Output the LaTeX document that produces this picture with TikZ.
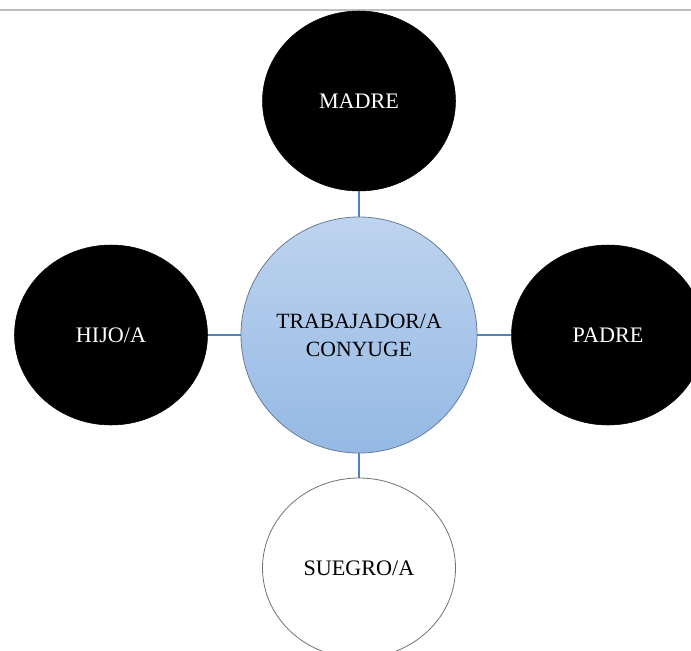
\documentclass[tikz,border=0pt]{standalone}
\usepackage{fontspec}
\setmainfont{Liberation Serif}
\usetikzlibrary{shapes.geometric}

\definecolor{linkblue}{RGB}{79,129,189}
\definecolor{centertop}{RGB}{190,211,238}
\definecolor{centerbot}{RGB}{148,185,228}
\definecolor{centerrim}{RGB}{105,125,155}

\tikzset{
	family/.style={ellipse, minimum width=144.75pt, minimum height=135pt, inner sep=0pt, font=\fontsize{16.6}{20}\selectfont},
	darkfam/.style={family, draw=black, fill=black, text=white},
	lightfam/.style={family, draw=black!55, line width=0.6pt, fill=white},
	worker/.style={circle, minimum size=177pt, inner sep=0pt, draw=centerrim, line width=0.6pt, top color=centertop, bottom color=centerbot, align=center, font=\fontsize{16.3}{21}\selectfont},
	link/.style={draw=linkblue, line width=1.8pt}
}

\begin{document}
\begin{tikzpicture}[x=0.75pt,y=-0.75pt]
				\useasboundingbox (0,0) rectangle (691,650);
				\draw[black!25, line width=0.9pt] (0,10) -- (691,10);
				
				\node[worker] (trab) at (359,335) {TRABAJADOR/A\\CONYUGE};
				\node[darkfam] (madre) at (359,101) {MADRE};
				\node[darkfam] (hijo) at (111,335) {HIJO/A};
				\node[darkfam] (padre) at (608,335) {PADRE};
				\node[lightfam] (suegro) at (359,568) {SUEGRO/A};
				
				\draw[link] (trab) -- (madre);
				\draw[link] (trab) -- (hijo);
				\draw[link] (trab) -- (padre);
				\draw[link] (trab) -- (suegro);
			\end{tikzpicture}
\end{document}
